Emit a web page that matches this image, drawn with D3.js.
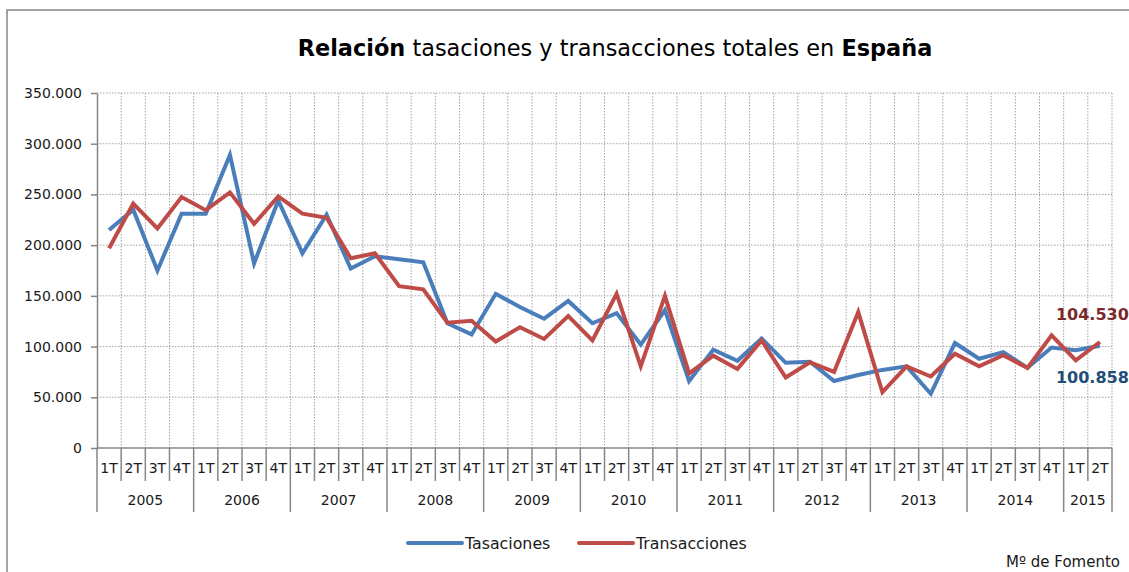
<!DOCTYPE html>
<html>
<head>
<meta charset="utf-8">
<script src="https://cdn.jsdelivr.net/npm/d3@7"></script>
<style>
  body { margin: 0; background: #fff; }
  svg { display: block; font-family: "DejaVu Sans", sans-serif; }
</style>
</head>
<body>
<svg id="chart" width="1129" height="572"></svg>
<script>
// data (quarterly totals)
const years = [2005, 2006, 2007, 2008, 2009, 2010, 2011, 2012, 2013, 2014, 2015];
const quarters = ["1T", "2T", "3T", "4T"];
const yTicks = [0, 50000, 100000, 150000, 200000, 250000, 300000, 350000];

const tasaciones = [215000, 235000, 175000, 231000, 231000, 289000, 182000, 244000,
  192000, 230000, 177000, 189000, 186000, 183000, 123000, 112000, 152000, 139000,
  127500, 145000, 123000, 133000, 102000, 136000, 66000, 97000, 86000, 108000,
  84000, 85000, 66000, 72000, 77000, 80500, 53500, 103500, 88000, 94500, 79000,
  99000, 96500, 100858];
const transacciones = [197000, 241000, 216500, 247500, 234500, 252000, 221000, 248000,
  231000, 227000, 187000, 192000, 159500, 156500, 123500, 125500, 105000, 119000,
  107500, 130000, 106000, 152000, 80500, 150000, 73500, 91000, 78000, 106000,
  69500, 84500, 75000, 134000, 55000, 80500, 70500, 93000, 80500, 91500, 79000,
  111000, 86500, 104530];

const seriesNames = ["Tasaciones", "Transacciones"];
const colors = ["#4a7ebb", "#be4b48"];
const labelColors = ["#1f4e79", "#7a2a28"];

// categories: year + quarter, 2015 only up to 2T
const cats = [];
years.forEach(y => quarters.forEach(q => { if (cats.length < tasaciones.length) cats.push({ y: y, q: q, key: y + "-" + q }); }));

const svg = d3.select("#chart");
const pLeft = 97, pRight = 1112, pTop = 93, pBottom = 448;
const grey = "#868686";
const fmt = d3.formatLocale({ decimal: ",", thousands: ".", grouping: [3] }).format(",d");

const x = d3.scaleBand().domain(cats.map(d => d.key)).range([pLeft, pRight]).padding(0);
const y = d3.scaleLinear().domain([0, 350000]).range([pBottom, pTop]);
const bw = x.bandwidth();

// outer frame
svg.append("rect").attr("x", 7).attr("y", 10).attr("width", 1300).attr("height", 700)
  .attr("fill", "none").attr("stroke", grey).attr("stroke-width", 1.5);

// title
const title = svg.append("text").attr("x", 615).attr("y", 56).attr("text-anchor", "middle")
  .attr("font-size", 21).attr("fill", "#000");
title.append("tspan").attr("font-weight", "bold").text("Relación");
title.append("tspan").text(" tasaciones y transacciones totales en ");
title.append("tspan").attr("font-weight", "bold").text("España");
const tw = title.node().getComputedTextLength();
title.attr("font-size", 21 * 635 / tw);

// grid
const grid = svg.append("g").attr("stroke", "#a3a3a3").attr("stroke-dasharray", "1.5,1.5").attr("stroke-width", 1);
grid.selectAll("line.h").data(yTicks.filter(d => d > 0)).join("line")
  .attr("x1", pLeft).attr("x2", pRight).attr("y1", d => y(d)).attr("y2", d => y(d));
grid.selectAll("line.v").data(cats.slice(1).map(d => x(d.key)).concat([pRight])).join("line")
  .attr("x1", d => d).attr("x2", d => d).attr("y1", pTop).attr("y2", pBottom);

// y axis
const yAxis = svg.append("g").attr("transform", `translate(${pLeft},0)`)
  .call(d3.axisLeft(y).tickValues(yTicks).tickSize(6).tickSizeOuter(0).tickFormat(d => d === 0 ? "0" : fmt(d)));
yAxis.select(".domain").attr("stroke", grey).attr("stroke-width", 1.5);
yAxis.selectAll(".tick line").attr("stroke", grey).attr("stroke-width", 1.5);
yAxis.selectAll(".tick text").attr("x", -15).attr("font-size", 14).attr("fill", "#1a1a1a")
  .attr("font-family", "DejaVu Sans, sans-serif");

// x axis as a two-level category table
const xa = svg.append("g").attr("stroke", grey).attr("stroke-width", 1.5);
xa.append("line").attr("x1", pLeft).attr("x2", pRight).attr("y1", pBottom).attr("y2", pBottom);
const bounds = cats.map(d => x(d.key)).concat([pRight]);
xa.selectAll("line.q").data(bounds).join("line")
  .attr("x1", d => d).attr("x2", d => d).attr("y1", pBottom).attr("y2", (d, i) => (i % 4 === 0 || i === bounds.length - 1) ? 512 : 481);

svg.append("g").selectAll("text").data(cats).join("text")
  .attr("x", d => x(d.key) + bw / 2).attr("y", 473).attr("text-anchor", "middle")
  .attr("font-size", 14).attr("fill", "#1a1a1a").text(d => d.q);

svg.append("g").selectAll("text").data(years).join("text")
  .attr("x", yr => {
    const ks = cats.filter(c => c.y === yr);
    return (x(ks[0].key) + x(ks[ks.length - 1].key) + bw) / 2;
  })
  .attr("y", 505).attr("text-anchor", "middle").attr("font-size", 14).attr("fill", "#1a1a1a").text(d => d);

// lines
const line = d3.line().x((d, i) => x(cats[i].key) + bw / 2).y(d => y(d));
[tasaciones, transacciones].forEach((s, k) => {
  svg.append("path").datum(s).attr("d", line).attr("fill", "none")
    .attr("stroke", colors[k]).attr("stroke-width", 4).attr("stroke-linejoin", "miter");
});

// end labels (kept inside the window)
const lastX = x(cats[cats.length - 1].key) + bw / 2;
svg.append("text").attr("x", lastX - 44).attr("y", 320).attr("font-size", 16).attr("font-weight", "bold")
  .attr("fill", labelColors[1]).text(fmt(transacciones[transacciones.length - 1]));
svg.append("text").attr("x", lastX - 44).attr("y", 383).attr("font-size", 16).attr("font-weight", "bold")
  .attr("fill", labelColors[0]).text(fmt(tasaciones[tasaciones.length - 1]));

// legend
const lg = svg.append("g");
const legX = [408, 579];
seriesNames.forEach((n, k) => {
  lg.append("line").attr("x1", legX[k]).attr("x2", legX[k] + 54).attr("y1", 543).attr("y2", 543)
    .attr("stroke", colors[k]).attr("stroke-width", 4).attr("stroke-linecap", "round");
  lg.append("text").attr("x", legX[k] + 57).attr("y", 549).attr("font-size", 15.8).attr("fill", "#1a1a1a").text(n);
});

svg.append("text").attr("x", 1120).attr("y", 567).attr("text-anchor", "end").attr("font-size", 15)
  .attr("fill", "#1a1a1a").text("Mº de Fomento");
</script>
</body>
</html>
